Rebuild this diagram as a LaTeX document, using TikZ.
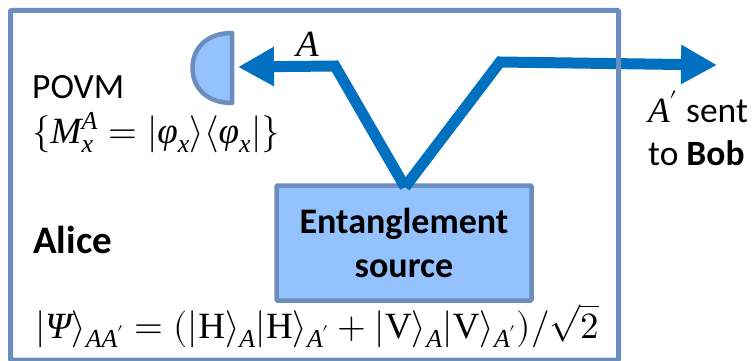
\documentclass[tikz,border=0pt]{standalone}
\usepackage{fontspec}
\usepackage{unicode-math}
\setmainfont{Carlito}
\newfontfamily\psifont{Liberation Serif Italic}
\setmathfont{Latin Modern Math}
\setmathfont[range={up/{latin,Latin}}]{Liberation Serif}
\setmathfont[range={it/{latin,Latin,greek,Greek}}]{Liberation Serif Italic}
\usetikzlibrary{arrows.meta}
\definecolor{framec}{HTML}{6C8EBF}
\definecolor{fillc}{HTML}{94C2FF}
\definecolor{beamc}{HTML}{0070C0}
\newcommand{\bigtext}{\fontsize{35.5}{44}\selectfont}
\newcommand{\mathtext}{\fontsize{37}{44}\selectfont}
\tikzset{
  x=1pt,y=-1pt,
  frame/.style={draw=framec,line width=5pt,rounded corners=1pt},
  sourcebox/.style={draw=framec,fill=fillc,line width=4.5pt,rounded corners=1pt,minimum width=255pt,minimum height=115pt,align=center,inner sep=0pt,font=\fontsize{36}{44}\selectfont\bfseries},
  beam/.style={draw=beamc,line width=11pt,line join=miter},
  beamtip/.style={-{Triangle[length=36pt,width=37pt]}},
  lbl/.style={anchor=base west,inner sep=0pt,font=\bigtext},
  mlbl/.style={anchor=base west,inner sep=0pt,font=\mathtext},
}
\begin{document}
\begin{tikzpicture}
\useasboundingbox (0,0) rectangle (755,361);
\fill[white] (0,0) rectangle (755,361);
\node[sourcebox] (source) at (404,243) {Entanglement\\source};
\coordinate (v) at (405,187);
\coordinate (bendA) at (335,66);
\coordinate (tipA) at (238,67);
\coordinate (bendB) at (500,62);
\coordinate (tipB) at (717,65);
\draw[beam,beamtip] (v) -- (bendA) -- (tipA);
\draw[beam,beamtip] (v) -- (bendB) -- (tipB);
\draw[frame] (10.5,360) -- (10.5,10.5) -- (618.5,10.5) -- (618.5,360) -- cycle;
\draw[draw=framec,fill=fillc,line width=4.5pt,line join=round] (232,33) .. controls (207,33) and (192.5,48) .. (192.5,68) .. controls (192.5,88) and (207,103) .. (232,103) -- cycle;
\node[mlbl] (labelA) at (296,57) {$A$};
\node[lbl] (povm) at (32,98) {POVM};
\node[mlbl] (meas) at (32,143) {$\{M_x^A=|\varphi_x\rangle\langle\varphi_x|\}$};
\node[lbl,font=\fontsize{39}{44}\selectfont\bfseries] (alice) at (33,253) {Alice};
\node[mlbl] (state) at (35,338) {$|\mbox{\psifont Ψ}\rangle_{AA'}=(|\symup{H}\rangle_A|\symup{H}\rangle_{A'}+|\symup{V}\rangle_A|\symup{V}\rangle_{A'})/\sqrt{2}$};
\node[lbl] (sent) at (648,122) {$A'$ sent};
\node[lbl] (bob) at (648,165) {to \textbf{Bob}};
\end{tikzpicture}
\end{document}
